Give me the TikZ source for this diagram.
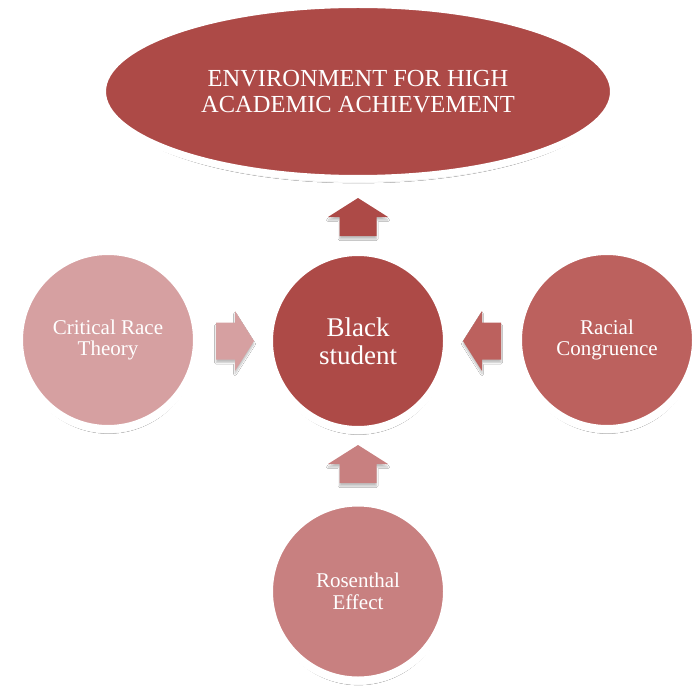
\documentclass[tikz,border=0pt]{standalone}
\usepackage{fontspec}
\setmainfont{Liberation Serif}
\usetikzlibrary{shapes.geometric,shadows.blur}
\definecolor{cdark}{HTML}{AD4A47}
\definecolor{clight}{HTML}{D6A0A1}
\definecolor{cmid}{HTML}{BC615E}
\definecolor{cbot}{HTML}{C88080}
\tikzset{
  softshadow/.style={blur shadow={shadow scale=0.97, shadow xshift=0.5pt, shadow yshift=-5pt, shadow blur radius=2.5pt, shadow blur steps=6, shadow opacity=30}},
  bubble/.style={circle, minimum size=178pt, inner sep=0pt, draw=white, line width=8pt,
    softshadow, text=white, align=center, font=\fontsize{21}{21.5}\selectfont},
  goal/.style={ellipse, minimum width=511pt, minimum height=174pt, inner sep=0pt, draw=white,
    line width=7pt, softshadow, text=white, align=center, font=\fontsize{24.5}{26}\selectfont},
  pics/blockarrow/.style={code={
    \fill[#1, blur shadow={shadow xshift=0pt, shadow yshift=-3pt, shadow blur radius=1.5pt, shadow blur steps=5, shadow opacity=25}]
      (-19,-18.5) -- (0,-18.5) -- (0,-30) -- (19,0) -- (0,30) -- (0,18.5) -- (-19,18.5) -- cycle;
  }}
}
\begin{document}
\begin{tikzpicture}[x=1pt,y=-1pt]
\useasboundingbox (0,0) rectangle (692,687);
\fill[white] (0,0) rectangle (692,687);
\node[goal, fill=cdark] (env) at (358,91.5) {ENVIRONMENT FOR HIGH\\ACADEMIC ACHIEVEMENT};
\node[bubble, fill=cdark, font=\fontsize{27}{28}\selectfont] (bs) at (358,341) {Black\\student};
\node[bubble, fill=clight] (crt) at (108,340) {Critical Race\\Theory};
\node[bubble, fill=cmid] (rc) at (607,340) {Racial\\Congruence};
\node[bubble, fill=cbot] (re) at (358,591.5) {Rosenthal\\Effect};
\coordinate (aup) at (358,217);
\coordinate (aleft) at (235,341);
\coordinate (aright) at (482,341);
\coordinate (abot) at (358,464);
\pic[rotate=90] at (aup) {blockarrow=cdark};
\pic at (aleft) {blockarrow=clight};
\pic[rotate=180] at (aright) {blockarrow=cmid};
\pic[rotate=90] at (abot) {blockarrow=cbot};
\end{tikzpicture}
\end{document}
